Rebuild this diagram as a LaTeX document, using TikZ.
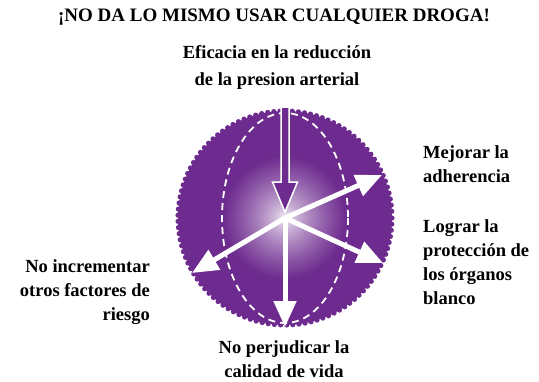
\documentclass[tikz,border=0pt]{standalone}
\usepackage{fontspec}
\setmainfont{Liberation Serif}[BoldFont={Liberation Serif Bold}]
\usetikzlibrary{arrows.meta,calc}
\definecolor{orbpurple}{RGB}{110,43,143}
\begin{document}
\begin{tikzpicture}[x=1pt,y=-1pt,
  txt/.style={font=\bfseries\fontsize{18.5}{24}\selectfont, inner sep=0pt, text=black},
  ray/.style={draw=white, line width=5pt, -{Triangle[width=22pt,length=26pt]}},
  ]
\useasboundingbox (0,0) rectangle (539,381);

% sphere: purple body with a white glow in the middle, scalloped rim
\coordinate (c) at (285,218);
\fill[orbpurple] (c) circle[radius=107];
\foreach \r in {62,61,...,1}{
  \pgfmathsetmacro\p{min(100,100*(\r/62)^0.65)}
  \fill[orbpurple!\p!white] (c) circle[radius=\r];
}
\foreach \a in {0,3.3,...,357}
  \fill[orbpurple] ($(c)+(\a:107)$) circle[radius=2.6];
\draw[white, dash pattern=on 7pt off 5pt, line width=1.8pt]
  (c) ellipse[x radius=63, y radius=105];

% rays from the centre
\coordinate (ur) at (382,175);
\coordinate (lr) at (383,263);
\coordinate (ll) at (192,273);
\coordinate (bt) at (285,327);
\draw[ray] (c) -- (ur);
\draw[ray] (c) -- (lr);
\draw[ray] (c) -- (ll);
\draw[ray] (c) -- (bt);

% hollow arrow entering from the top
\coordinate (ts) at (285,107);
\coordinate (tt) at (285,212);
\draw[white, line width=1.5pt, fill=orbpurple, line join=miter]
  ($(ts)+(-4,0)$) -- ($(tt)+(-4,-30)$) -- ($(tt)+(-12.5,-30)$) -- (tt)
  -- ($(tt)+(12.5,-30)$) -- ($(tt)+(4,-30)$) -- ($(ts)+(4,0)$) -- cycle;

% texts
\node[txt, font=\bfseries\fontsize{19}{24}\selectfont, anchor=north] (title) at (274,9)
  {¡NO DA LO MISMO USAR CUALQUIER DROGA!};
\node[txt, font=\bfseries\fontsize{18.5}{27}\selectfont, align=center, anchor=north] (top) at (277,45)
  {Eficacia en la reducción\\de la presion arterial};
\node[txt, align=left, anchor=north west] (adh) at (423,145)
  {Mejorar la\\adherencia};
\node[txt, align=left, anchor=north west] (org) at (423,219)
  {Lograr la\\protección de\\los órganos\\blanco};
\node[txt, align=right, anchor=north east] (risk) at (150,259)
  {No incrementar\\otros factores de\\riesgo};
\node[txt, align=center, anchor=north] (life) at (284,340)
  {No perjudicar la\\calidad de vida};
\end{tikzpicture}
\end{document}
